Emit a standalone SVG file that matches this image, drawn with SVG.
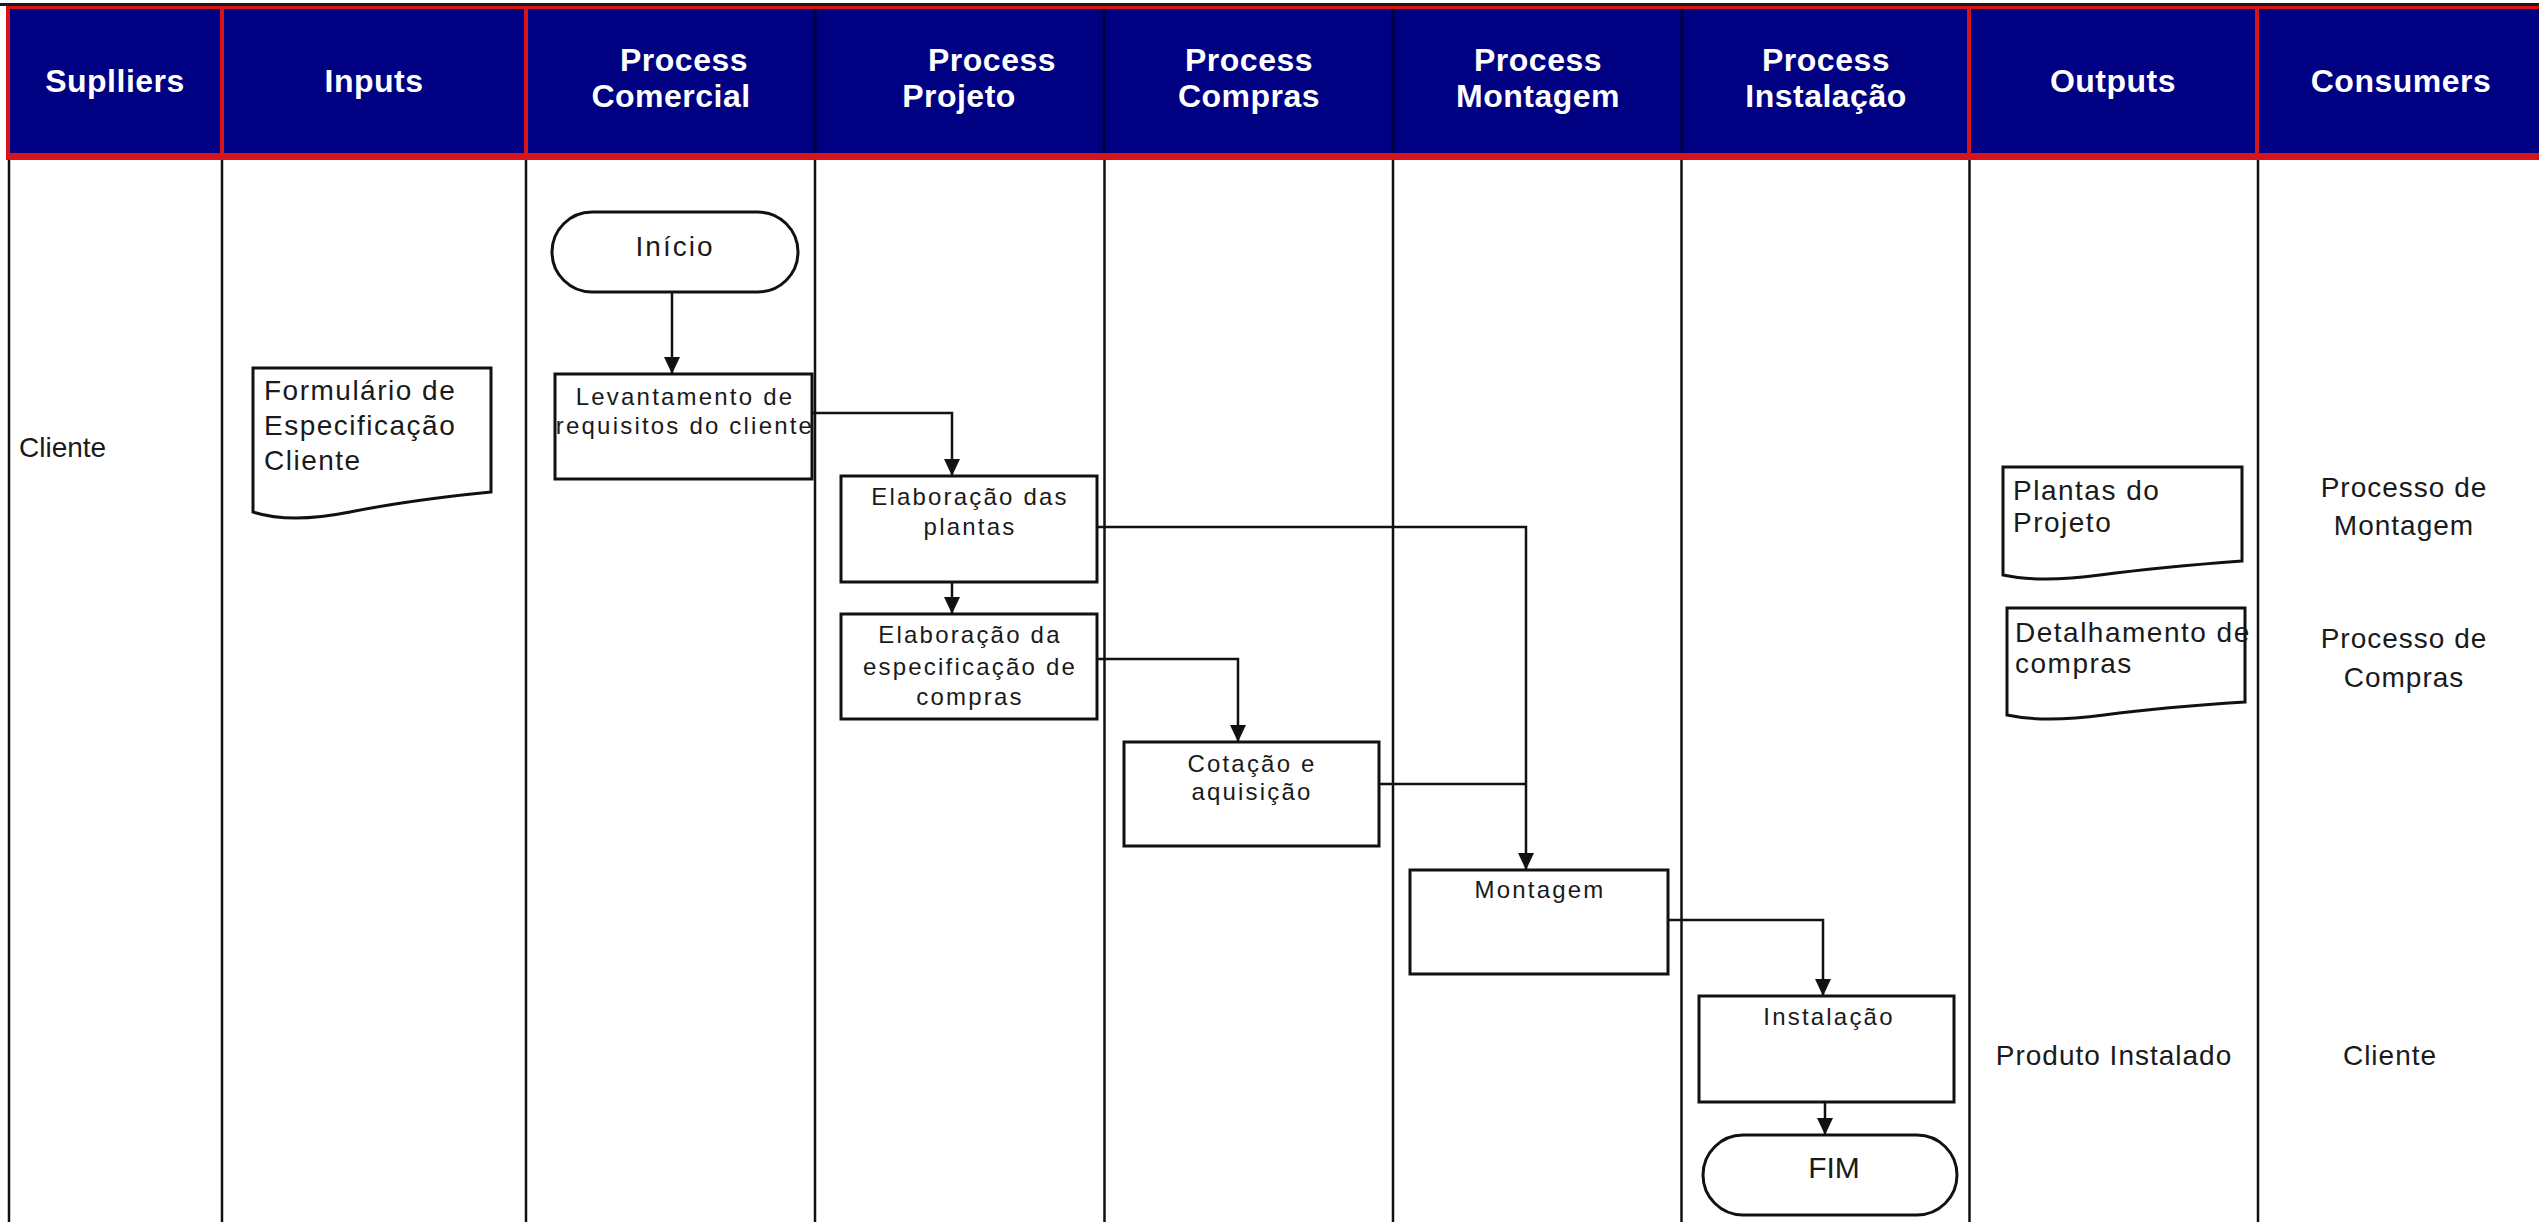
<svg xmlns="http://www.w3.org/2000/svg" width="2539" height="1222" viewBox="0 0 2539 1222">
<style>
.lane{stroke:#111;stroke-width:2.5}
.box{fill:#fff;stroke:#111;stroke-width:3}
.t{font-family:"Liberation Sans",Arial,sans-serif;fill:#1a1a1a}
.bt{font-size:24px;letter-spacing:2.2px;text-anchor:middle}
.dt{font-size:28px;letter-spacing:1.5px}
.pt{font-size:28px;letter-spacing:1px;text-anchor:middle}
.ht{font-family:"Liberation Sans",Arial,sans-serif;font-weight:bold;font-size:32px;fill:#fff;text-anchor:middle;letter-spacing:0.5px}
.conn{fill:none;stroke:#111;stroke-width:2.5}
.red{fill:#d7141c}
.navy{fill:#000082}
</style>
<defs>
<marker id="ah" viewBox="0 0 17 16" refX="17" refY="8" markerWidth="17" markerHeight="16" markerUnits="userSpaceOnUse" orient="auto"><path d="M0,0 L17,8 L0,16 z" fill="#111"/></marker>
</defs>
<rect width="2539" height="1222" fill="#fff"/>

<g id="header">
<rect x="0" y="3" width="2539" height="3" fill="#1a1a1a"/>
<rect class="navy" x="8" y="8" width="2531" height="147"/>
<rect class="red" x="6" y="6" width="2533" height="3"/>
<rect class="red" x="6" y="153" width="2533" height="7"/>
<rect class="red" x="6" y="6" width="4" height="154"/>
<rect class="red" x="220" y="6" width="4" height="154"/>
<rect class="red" x="524" y="6" width="4" height="154"/>
<rect class="red" x="1967" y="6" width="4" height="154"/>
<rect class="red" x="2255" y="6" width="4" height="154"/>
<rect x="813.5" y="9" width="3" height="144" fill="#00003a"/>
<rect x="1102.5" y="9" width="3" height="144" fill="#00003a"/>
<rect x="1391.5" y="9" width="3" height="144" fill="#00003a"/>
<rect x="1680.5" y="9" width="3" height="144" fill="#00003a"/>
<text class="ht" x="115" y="92">Suplliers</text>
<text class="ht" x="374" y="92">Inputs</text>
<text class="ht" x="684" y="71">Process</text>
<text class="ht" x="671" y="107">Comercial</text>
<text class="ht" x="992" y="71">Process</text>
<text class="ht" x="959" y="107">Projeto</text>
<text class="ht" x="1249" y="71">Process</text>
<text class="ht" x="1249" y="107">Compras</text>
<text class="ht" x="1538" y="71">Process</text>
<text class="ht" x="1538" y="107">Montagem</text>
<text class="ht" x="1826" y="71">Process</text>
<text class="ht" x="1826" y="107">Instalação</text>
<text class="ht" x="2113" y="92">Outputs</text>
<text class="ht" x="2401" y="92">Consumers</text>
</g>

<g id="lanes">
<line class="lane" x1="9" y1="160" x2="9" y2="1222"/>
<line class="lane" x1="222" y1="160" x2="222" y2="1222"/>
<line class="lane" x1="526" y1="160" x2="526" y2="1222"/>
<line class="lane" x1="815" y1="160" x2="815" y2="1222"/>
<line class="lane" x1="1104.5" y1="160" x2="1104.5" y2="1222"/>
<line class="lane" x1="1393" y1="160" x2="1393" y2="1222"/>
<line class="lane" x1="1681.5" y1="160" x2="1681.5" y2="1222"/>
<line class="lane" x1="1969.5" y1="160" x2="1969.5" y2="1222"/>
<line class="lane" x1="2258" y1="160" x2="2258" y2="1222"/>
</g>

<g id="connectors">
<path class="conn" d="M672,292 V374" marker-end="url(#ah)"/>
<path class="conn" d="M812,413 H952 V476" marker-end="url(#ah)"/>
<path class="conn" d="M952,582 V614" marker-end="url(#ah)"/>
<path class="conn" d="M1097,527 H1526 V870" marker-end="url(#ah)"/>
<path class="conn" d="M1097,659 H1238 V742" marker-end="url(#ah)"/>
<path class="conn" d="M1379,784 H1526"/>
<path class="conn" d="M1668,920 H1823 V996" marker-end="url(#ah)"/>
<path class="conn" d="M1825,1102 V1135" marker-end="url(#ah)"/>
</g>

<g id="supplier-cliente">
<text class="t" x="19" y="457" font-size="28">Cliente</text>
</g>

<g id="doc-formulario">
<path class="box" d="M253,368 H491 V492 Q410,500 350,512 Q290,524 253,512 Z"/>
<text class="t dt" x="264" y="400">Formulário de</text>
<text class="t dt" x="264" y="435">Especificação</text>
<text class="t dt" x="264" y="470">Cliente</text>
</g>

<g id="inicio">
<rect class="box" x="552" y="212" width="246" height="80" rx="40" ry="40"/>
<text class="t" x="675" y="256" font-size="28" letter-spacing="2" text-anchor="middle">Início</text>
</g>

<g id="levantamento">
<rect class="box" x="555" y="374" width="257" height="105"/>
<text class="t bt" x="685" y="405">Levantamento de</text>
<text class="t bt" x="685" y="434">requisitos do cliente</text>
</g>

<g id="elab-plantas">
<rect class="box" x="841" y="476" width="256" height="106"/>
<text class="t bt" x="970" y="505">Elaboração das</text>
<text class="t bt" x="970" y="535">plantas</text>
</g>

<g id="elab-especificacao">
<rect class="box" x="841" y="614" width="256" height="105"/>
<text class="t bt" x="970" y="643">Elaboração da</text>
<text class="t bt" x="970" y="675">especificação de</text>
<text class="t bt" x="970" y="705">compras</text>
</g>

<g id="cotacao">
<rect class="box" x="1124" y="742" width="255" height="104"/>
<text class="t bt" x="1252" y="772">Cotação e</text>
<text class="t bt" x="1252" y="800">aquisição</text>
</g>

<g id="montagem">
<rect class="box" x="1410" y="870" width="258" height="104"/>
<text class="t bt" x="1540" y="898">Montagem</text>
</g>

<g id="instalacao">
<rect class="box" x="1699" y="996" width="255" height="106"/>
<text class="t bt" x="1829" y="1025">Instalação</text>
</g>

<g id="fim">
<rect class="box" x="1703" y="1135" width="254" height="80" rx="40" ry="40"/>
<text class="t" x="1834" y="1178" font-size="30" text-anchor="middle">FIM</text>
</g>

<g id="doc-plantas">
<path class="box" d="M2003,467 H2242 V561 Q2161,567 2100,575 Q2040,583 2003,575 Z"/>
<text class="t dt" x="2013" y="500">Plantas do</text>
<text class="t dt" x="2013" y="532">Projeto</text>
</g>

<g id="doc-detalhamento">
<path class="box" d="M2007,608 H2245 V702 Q2164,707 2104,715 Q2044,723 2007,715 Z"/>
<text class="t dt" x="2015" y="642">Detalhamento de</text>
<text class="t dt" x="2015" y="673">compras</text>
</g>

<g id="consumer-montagem">
<text class="t pt" x="2404" y="497">Processo de</text>
<text class="t pt" x="2404" y="535">Montagem</text>
</g>

<g id="consumer-compras">
<text class="t pt" x="2404" y="648">Processo de</text>
<text class="t pt" x="2404" y="687">Compras</text>
</g>

<g id="output-produto">
<text class="t pt" x="2114" y="1065">Produto Instalado</text>
</g>

<g id="consumer-cliente">
<text class="t pt" x="2390" y="1065">Cliente</text>
</g>
</svg>
